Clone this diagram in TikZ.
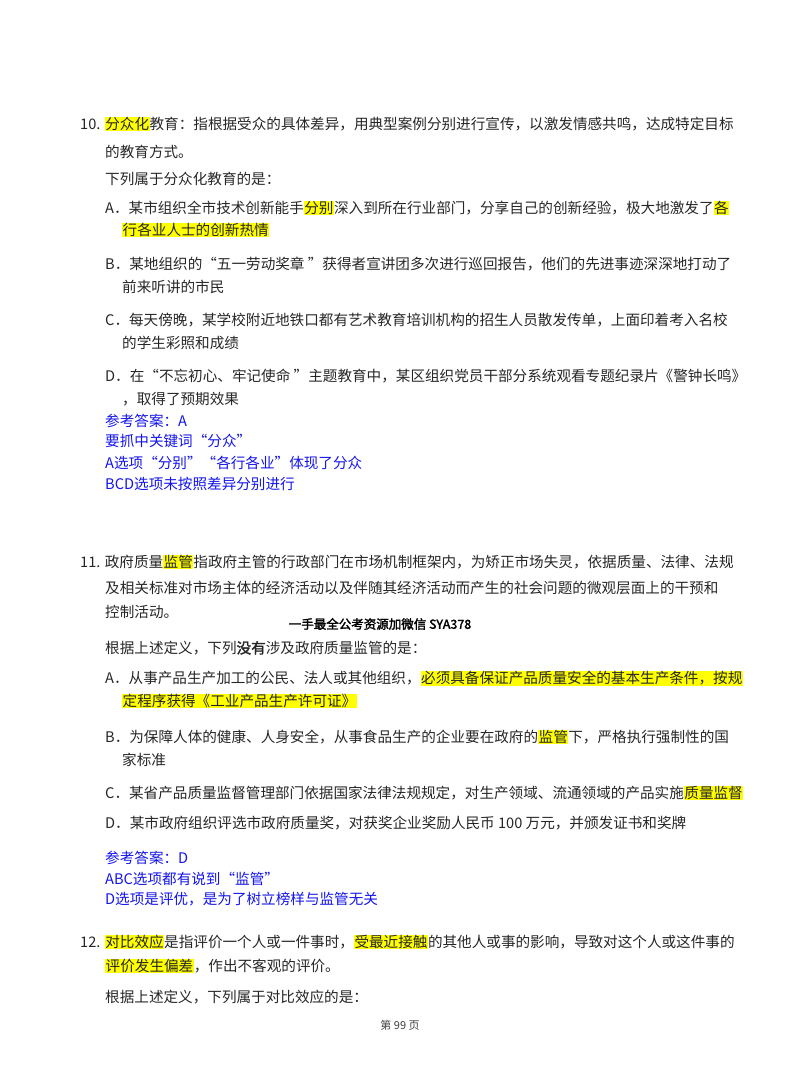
\documentclass[tikz,border=0pt]{standalone}
\usepackage{fontspec}
\usepackage{xcolor}
\setmainfont{Liberation Serif}
\newfontfamily\cjk{Noto Sans CJK SC}
\newfontfamily\cjkb{Noto Sans CJK SC}[FakeBold=2]
\definecolor{hly}{RGB}{255,255,0}
\definecolor{ansblue}{RGB}{20,20,235}
\newcommand\hlt[1]{{\setlength\fboxsep{0.5pt}\colorbox{hly}{#1}}}
\usetikzlibrary{positioning}

\begin{document}
\begin{tikzpicture}[x=1pt,y=-1pt,
    line/.style = {anchor=west, inner sep=0pt, font=\cjk\fontsize{14.6}{15}\selectfont, text=black!85},
    ans/.style = {line, text=ansblue}
    ]
    \useasboundingbox (0,0) rectangle (800,1086);
    % question 10
    \node (q10) [line] at (80,124) {10. \hlt{分众化}教育：指根据受众的具体差异，用典型案例分别进行宣传，以激发情感共鸣，达成特定目标};
    \node (q10b) [line] at (105,152) {的教育方式。};
    \node (q10c) [line] at (105,179) {下列属于分众化教育的是：};
    \node (q10a1) [line] at (105,208) {A．某市组织全市技术创新能手\hlt{分别}深入到所在行业部门，分享自己的创新经验，极大地激发了\hlt{各}};
    \node (q10a2) [line] at (122,230) {\hlt{行各业人士的创新热情}};
    \node (q10b1) [line] at (105,264) {B．某地组织的“五一劳动奖章 ”获得者宣讲团多次进行巡回报告，他们的先进事迹深深地打动了};
    \node (q10b2) [line] at (122,287) {前来听讲的市民};
    \node (q10c1) [line] at (105,320) {C．每天傍晚，某学校附近地铁口都有艺术教育培训机构的招生人员散发传单，上面印着考入名校};
    \node (q10c2) [line] at (122,343) {的学生彩照和成绩};
    \node (q10d1) [line] at (105,376) {D．在“不忘初心、牢记使命 ”主题教育中，某区组织党员干部分系统观看专题纪录片《警钟长鸣》};
    \node (q10d2) [line] at (122,399) {，取得了预期效果};
    \node (k10a) [ans] at (105,421) {参考答案：A};
    \node (k10b) [ans] at (105,441) {要抓中关键词“分众”};
    \node (k10c) [ans] at (105,463) {A选项“分别”“各行各业”体现了分众};
    \node (k10d) [ans] at (105,484) {BCD选项未按照差异分别进行};
    % question 11
    \node (q11) [line] at (80,562) {11. 政府质量\hlt{监管}指政府主管的行政部门在市场机制框架内，为矫正市场失灵，依据质量、法律、法规};
    \node (q11b) [line] at (105,588) {及相关标准对市场主体的经济活动以及伴随其经济活动而产生的社会问题的微观层面上的干预和};
    \node (q11c) [line] at (105,612) {控制活动。};
    \node (wm) [inner sep=0pt, font=\cjkb\fontsize{12.5}{13}\selectfont] at (380,624) {一手最全公考资源加微信 SYA378};
    \node (q11d) [line] at (105,648) {根据上述定义，下列{\cjkb 没有}涉及政府质量监管的是：};
    \node (q11a1) [line] at (105,678) {A．从事产品生产加工的公民、法人或其他组织，\hlt{必须具备保证产品质量安全的基本生产条件，按规}};
    \node (q11a2) [line] at (122,701) {\hlt{定程序获得《工业产品生产许可证》}};
    \node (q11b1) [line] at (105,737) {B．为保障人体的健康、人身安全，从事食品生产的企业要在政府的\hlt{监管}下，严格执行强制性的国};
    \node (q11b2) [line] at (122,760) {家标准};
    \node (q11c1) [line] at (105,793) {C．某省产品质量监督管理部门依据国家法律法规规定，对生产领域、流通领域的产品实施\hlt{质量监督}};
    \node (q11d1) [line] at (105,823) {D．某市政府组织评选市政府质量奖，对获奖企业奖励人民币 100 万元，并颁发证书和奖牌};
    \node (k11a) [ans] at (105,858) {参考答案：D};
    \node (k11b) [ans] at (105,879) {ABC选项都有说到“监管”};
    \node (k11c) [ans] at (105,899) {D选项是评优，是为了树立榜样与监管无关};
    % question 12
    \node (q12) [line] at (80,942) {12. \hlt{对比效应}是指评价一个人或一件事时，\hlt{受最近接触}的其他人或事的影响，导致对这个人或这件事的};
    \node (q12b) [line] at (105,966) {\hlt{评价发生偏差}，作出不客观的评价。};
    \node (q12c) [line] at (105,997) {根据上述定义，下列属于对比效应的是：};
    \node (pg) [inner sep=0pt, font=\cjk\fontsize{11}{12}\selectfont, text=black!75] at (400,1025) {第 99 页};
\end{tikzpicture}
\end{document}
